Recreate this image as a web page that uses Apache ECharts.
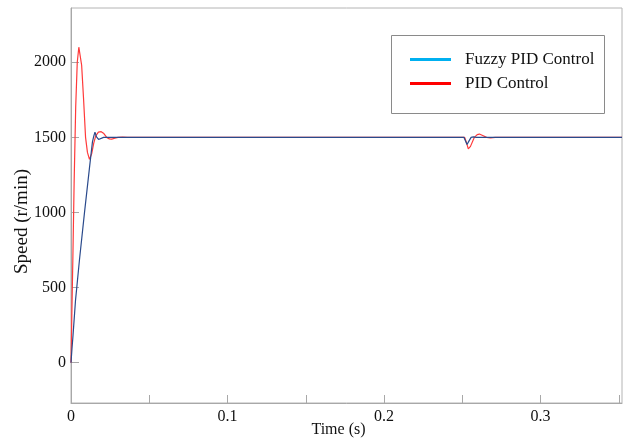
<!DOCTYPE html>
<html>
<head>
<meta charset="utf-8">
<script src="https://cdn.jsdelivr.net/npm/echarts@6/dist/echarts.min.js"></script>
<style>
html,body{margin:0;padding:0;background:#fff;}
#chart{width:630px;height:439px;}
</style>
</head>
<body>
<div id="chart"></div>
<script>
// ---- Data ----
var timeFuzzy = [0, 0.0006, 0.0013, 0.0029, 0.0054, 0.0086, 0.0118, 0.0137, 0.0146, 0.0153, 0.0163, 0.0176, 0.0188, 0.0208, 0.0300, 0.1000, 0.2000, 0.2510, 0.2519, 0.2530, 0.2542, 0.2556, 0.2570, 0.2590, 0.3000, 0.3520];
var speedFuzzy = [0, 90, 184, 417, 684, 997, 1297, 1470, 1510, 1535, 1503, 1486, 1495, 1500, 1500, 1500, 1500, 1500, 1498, 1452, 1475, 1500, 1503, 1500, 1500, 1500];

var timePID = [0, 0.0005, 0.0012, 0.0020, 0.0030, 0.0040, 0.0050, 0.0058, 0.0068, 0.0080, 0.0093, 0.0105, 0.0118, 0.0132, 0.0145, 0.0158, 0.0175, 0.0193, 0.0210, 0.0228, 0.0245, 0.0260, 0.0280, 0.0300, 0.0330, 0.0360, 0.1000, 0.2000, 0.2515, 0.2525, 0.2538, 0.2552, 0.2577, 0.2595, 0.2609, 0.2630, 0.2655, 0.2680, 0.2710, 0.3000, 0.3520];
var speedPID = [0, 300, 700, 1200, 1700, 2000, 2100, 2090, 1980, 1760, 1500, 1400, 1354, 1390, 1460, 1510, 1535, 1538, 1525, 1500, 1490, 1488, 1494, 1500, 1502, 1500, 1500, 1500, 1500, 1470, 1423, 1440, 1500, 1518, 1522, 1512, 1500, 1497, 1500, 1500, 1500];

var seriesNames = ['Fuzzy PID Control', 'PID Control'];
var xTickValues = [0, 0.05, 0.1, 0.15, 0.2, 0.25, 0.3, 0.35];
var xLabelValues = [0, 0.1, 0.2, 0.3];
var yTickValues = [0, 500, 1000, 1500, 2000];
var xName = 'Time (s)';
var yName = 'Speed (r/min)';

function pairs(t, v) { return t.map(function (x, i) { return [x, v[i]]; }); }

var serif = 'Liberation Serif, Times New Roman, serif';
var chart = echarts.init(document.getElementById('chart'), null, {renderer: 'canvas'});
chart.setOption({
  animation: false,
  backgroundColor: '#ffffff',
  grid: {left: 71, right: 8, top: 8, bottom: 36, containLabel: false, outerBoundsMode: 'none',
    show: true, borderColor: '#b4b4b4', borderWidth: 1},
  xAxis: {
    type: 'value', min: 0, max: 0.352,
    name: xName, nameLocation: 'middle', nameGap: 19, nameMoveOverlap: false,
    nameTextStyle: {fontFamily: serif, fontSize: 16, color: '#111', padding: [0, 16, 0, 0]},
    axisLine: {show: true, onZero: false, lineStyle: {color: '#a8a8a8', width: 1}},
    axisTick: {show: true, inside: true, length: 8, customValues: xTickValues, lineStyle: {color: '#a8a8a8'}},
    axisLabel: {customValues: xLabelValues, margin: 6, fontFamily: serif, fontSize: 16, color: '#111',
      formatter: function (v) { return String(+(+v).toFixed(2)); }},
    splitLine: {show: false}
  },
  yAxis: {
    type: 'value', min: -268, max: 2361,
    name: yName, nameLocation: 'middle', nameGap: 39, nameMoveOverlap: false,
    nameTextStyle: {fontFamily: serif, fontSize: 19, color: '#111', padding: [0, 32, 0, 0]},
    axisLine: {show: true, onZero: false, lineStyle: {color: '#a8a8a8', width: 1}},
    axisTick: {show: true, inside: true, length: 8, customValues: yTickValues, lineStyle: {color: '#a8a8a8'}},
    axisLabel: {customValues: yTickValues, margin: 5, fontFamily: serif, fontSize: 16, color: '#111',
      formatter: function (v) { return String(Math.round(v)); }},
    splitLine: {show: false}
  },
  graphic: [{
    type: 'rect', z: 1, left: 391, top: 35,
    shape: {width: 213, height: 78},
    style: {fill: '#ffffff', stroke: '#8a8a8a', lineWidth: 1}
  }],
  legend: {
    z: 10, left: 410, top: 51, orient: 'vertical', padding: 0,
    itemWidth: 41, itemHeight: 3, itemGap: 7,
    textStyle: {fontFamily: serif, fontSize: 17, color: '#111', padding: [0, 0, 0, 9]},
    data: [
      {name: seriesNames[0], icon: 'rect', itemStyle: {color: '#00b0f0'}},
      {name: seriesNames[1], icon: 'rect', itemStyle: {color: '#ff0000'}}
    ]
  },
  series: [
    {
      name: seriesNames[1], type: 'line', symbol: 'none', showSymbol: false, z: 2,
      data: pairs(timePID, speedPID),
      itemStyle: {color: '#ff0000'},
      lineStyle: {color: '#ff3a3a', width: 1.2}
    },
    {
      name: seriesNames[0], type: 'line', symbol: 'none', showSymbol: false, z: 3,
      data: pairs(timeFuzzy, speedFuzzy),
      itemStyle: {color: '#00b0f0'},
      lineStyle: {color: '#2a4a8c', width: 1.2}
    }
  ]
});
</script>
</body>
</html>
